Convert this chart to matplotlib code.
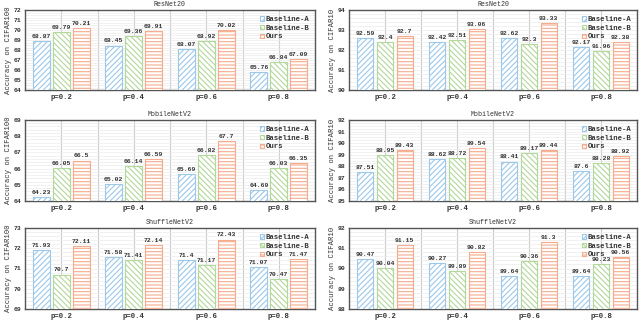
import numpy as np
import matplotlib
matplotlib.use("Agg")
import matplotlib.pyplot as plt
from matplotlib.ticker import MultipleLocator

plt.rcParams['font.family'] = ['Liberation Mono', 'DejaVu Sans Mono']
plt.rcParams['font.weight'] = 'bold'
plt.rcParams['hatch.linewidth'] = 0.8

groups = ['p=0.2', 'p=0.4', 'p=0.6', 'p=0.8']
methods = ['Baseline-A', 'Baseline-B', 'Ours']

# ResNet20
res_c100_a = [68.87, 68.45, 68.07, 65.76]
res_c100_b = [69.79, 69.36, 68.92, 66.84]
res_c100_o = [70.21, 69.91, 70.02, 67.09]
res_c10_a = [92.59, 92.42, 92.62, 92.17]
res_c10_b = [92.4, 92.51, 92.3, 91.96]
res_c10_o = [92.7, 93.06, 93.33, 92.38]

# MobileNetV2
mob_c100_a = [64.23, 65.02, 65.69, 64.69]
mob_c100_b = [66.05, 66.14, 66.82, 66.03]
mob_c100_o = [66.5, 66.59, 67.7, 66.35]
mob_c10_a = [87.51, 88.62, 88.41, 87.6]
mob_c10_b = [88.95, 88.72, 89.17, 88.28]
mob_c10_o = [89.43, 89.54, 89.44, 88.92]

# ShuffleNetV2
shf_c100_a = [71.93, 71.58, 71.4, 71.07]
shf_c100_b = [70.7, 71.41, 71.17, 70.47]
shf_c100_o = [72.11, 72.14, 72.43, 71.47]
shf_c10_a = [90.47, 90.27, 89.64, 89.64]
shf_c10_b = [90.04, 89.89, 90.36, 90.23]
shf_c10_o = [91.15, 90.82, 91.3, 90.56]

colors = ['#9cc8ea', '#b2d89a', '#f5ab8c']
hatches = ['//////', '\\\\\\\\\\\\', '-----']

panels = [
    ('ResNet20', 'Accuracy on CIFAR100', (res_c100_a, res_c100_b, res_c100_o), (64, 72)),
    ('ResNet20', 'Accuracy on CIFAR10', (res_c10_a, res_c10_b, res_c10_o), (90, 94)),
    ('MobileNetV2', 'Accuracy on CIFAR100', (mob_c100_a, mob_c100_b, mob_c100_o), (64, 69)),
    ('MobileNetV2', 'Accuracy on CIFAR10', (mob_c10_a, mob_c10_b, mob_c10_o), (85, 92)),
    ('ShuffleNetV2', 'Accuracy on CIFAR100', (shf_c100_a, shf_c100_b, shf_c100_o), (69, 73)),
    ('ShuffleNetV2', 'Accuracy on CIFAR10', (shf_c10_a, shf_c10_b, shf_c10_o), (88, 92)),
]

fig = plt.figure(figsize=(6.4, 3.22), dpi=100)

col_left = [25 / 640, 349 / 640]
col_width = [290 / 640, 288 / 640]
row_bottom = [1 - 90 / 322, 1 - 201 / 322, 1 - 309 / 322]
row_height = [80 / 322, 81 / 322, 81 / 322]

x = np.arange(len(groups))
width = 0.23
offset = 0.275

for i, (title, ylabel, series, ylim) in enumerate(panels):
    r, c = divmod(i, 2)
    ax = fig.add_axes([col_left[c], row_bottom[r], col_width[c], row_height[r]])
    for j, vals in enumerate(series):
        bars = ax.bar(x + (j - 1) * offset, vals, width, facecolor='white',
                      edgecolor=colors[j], hatch=hatches[j], linewidth=0.8,
                      label=methods[j], zorder=3)
        ax.bar_label(bars, labels=[f'{v:g}' for v in vals], padding=1.5,
                     fontsize=4.6, color='#333333')
    ax.set_xlim(-0.5, 3.5)
    ax.set_ylim(*ylim)
    ax.set_xticks(x)
    ax.set_xticklabels(groups)
    ax.set_xticks([0.5, 1.5, 2.5], minor=True)
    ax.yaxis.set_major_locator(MultipleLocator(1))
    ax.yaxis.set_minor_locator(MultipleLocator(0.2 if ylim[1] - ylim[0] <= 5 else 0.25))
    ax.grid(axis='x', which='both', color='#cccccc', linewidth=0.8, zorder=0)
    ax.grid(axis='y', which='both', color='#ebebeb', linewidth=0.5, zorder=0)
    ax.tick_params(axis='x', which='both', length=0, labelsize=5.2, colors='#333333', pad=3)
    ax.tick_params(axis='y', which='both', length=0, labelsize=4.6, colors='#333333', pad=2.5)
    for s in ax.spines.values():
        s.set_color('#555555')
        s.set_linewidth(1.0)
    ax.set_title(title, fontsize=4.8, pad=3, color='#333333')
    ax.set_ylabel(ylabel, fontsize=5.2, color='#333333', labelpad=1.5)
    ax.legend(loc='upper right', frameon=False, fontsize=5.2, handlelength=0.6,
              handleheight=0.6, handletextpad=0.2, labelspacing=0.25,
              borderaxespad=0.4, labelcolor='#333333')

fig.savefig('out.png', dpi=100)
